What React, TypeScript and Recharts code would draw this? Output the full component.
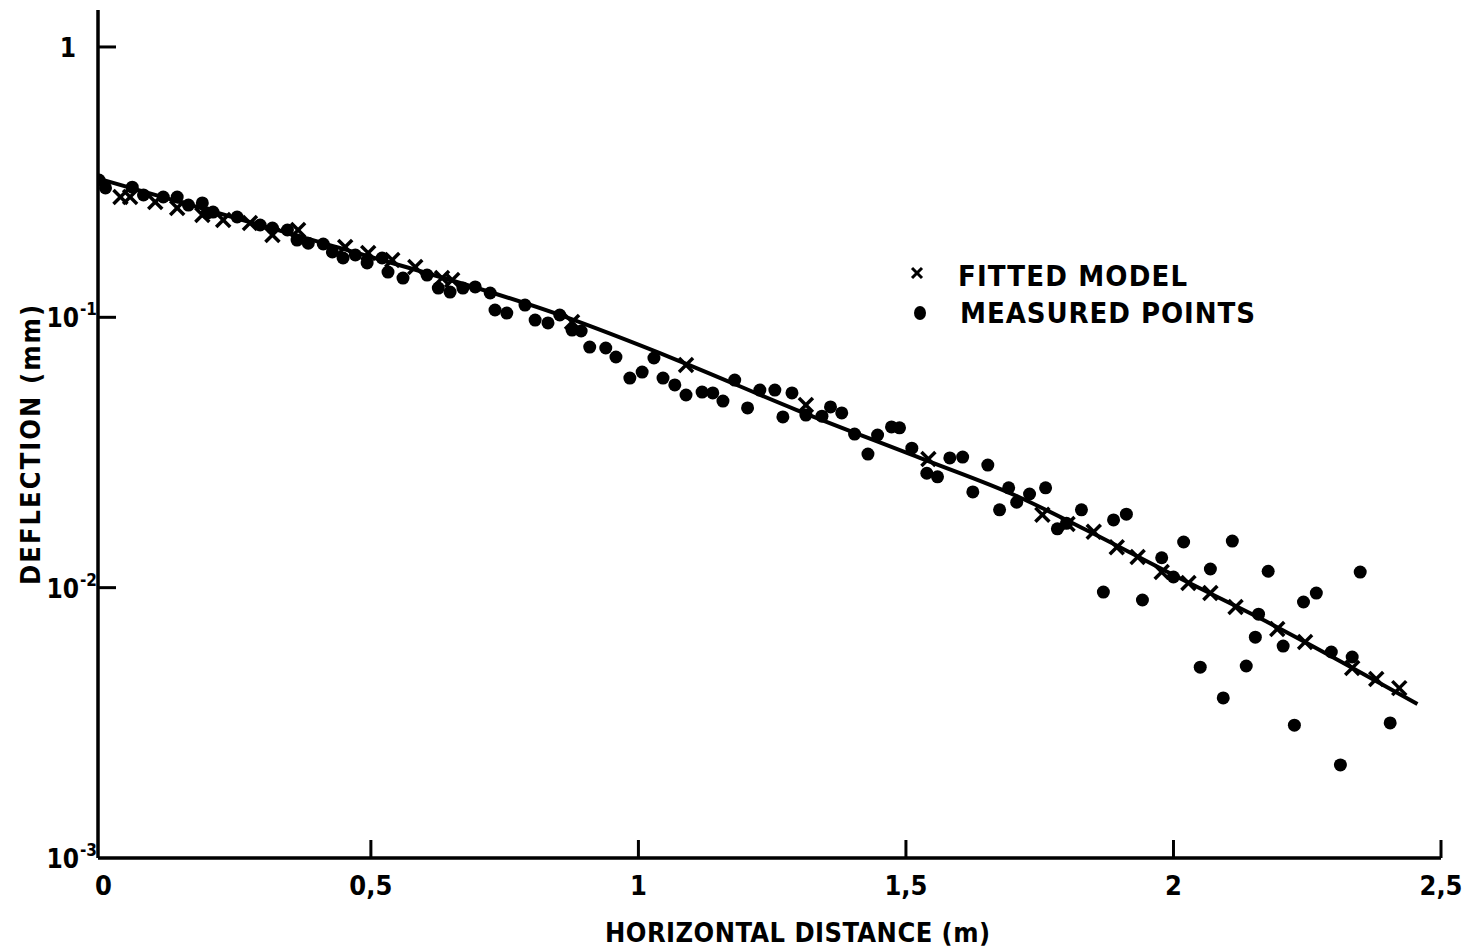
import { ScatterChart, Scatter, XAxis, YAxis, Legend } from 'recharts';

// measured deflection points (distance in m, deflection in mm)
const measuredX = [
  -0.008, 0.004, 0.054, 0.075, 0.112, 0.138, 0.159, 0.185, 0.194, 0.205, 0.25, 0.293, 0.316, 0.344, 0.362,
  0.383, 0.411, 0.428, 0.448, 0.471, 0.493, 0.521, 0.532, 0.56, 0.605, 0.626, 0.648, 0.672, 0.695, 0.723,
  0.732, 0.754, 0.788, 0.807, 0.831, 0.853, 0.876, 0.893, 0.909, 0.939, 0.958, 0.984, 1.007, 1.029, 1.046,
  1.068, 1.089, 1.119, 1.139, 1.158, 1.18, 1.204, 1.227, 1.255, 1.27, 1.287, 1.313, 1.343, 1.359, 1.38,
  1.404, 1.429, 1.447, 1.473, 1.488, 1.511, 1.539, 1.559, 1.582, 1.606, 1.625, 1.653, 1.675, 1.692, 1.707,
  1.731, 1.761, 1.783, 1.8, 1.828, 1.869, 1.888, 1.912, 1.942, 1.978, 2.0, 2.019, 2.05, 2.069, 2.093,
  2.11, 2.136, 2.153, 2.159, 2.177, 2.205, 2.226, 2.243, 2.267, 2.295, 2.312, 2.334, 2.349, 2.405,
];
const measuredY = [
  0.322, 0.301, 0.303, 0.2835, 0.2786, 0.2786, 0.26, 0.265, 0.243, 0.245, 0.235, 0.2195, 0.214, 0.2104, 0.193,
  0.188, 0.1867, 0.1745, 0.1657, 0.17, 0.1588, 0.1657, 0.147, 0.1397, 0.1433, 0.1283, 0.124, 0.1283, 0.1295, 0.123,
  0.1064, 0.1037, 0.111, 0.0977, 0.0953, 0.102, 0.0897, 0.089, 0.0776, 0.077, 0.0713, 0.0596, 0.0627, 0.0707, 0.0596,
  0.0562, 0.0516, 0.0529, 0.0525, 0.049, 0.0586, 0.0462, 0.0538, 0.0538, 0.0428, 0.0525, 0.0435, 0.0431, 0.0466, 0.0443,
  0.037, 0.0312, 0.0367, 0.0393, 0.039, 0.0328, 0.0265, 0.0257, 0.0302, 0.0304, 0.0226, 0.0284, 0.0194, 0.0234, 0.0207,
  0.0222, 0.0234, 0.0165, 0.0173, 0.0194, 0.00963, 0.0178, 0.0187, 0.009, 0.0129, 0.01095, 0.01475, 0.00508, 0.01172, 0.00391,
  0.01487, 0.00513, 0.00656, 0.00798, 0.0115, 0.00608, 0.0031, 0.00885, 0.00955, 0.00578, 0.00221, 0.00554, 0.01142, 0.00316,
];

// fitted model markers
const fittedX = [
  0.032, 0.05, 0.097, 0.138, 0.185, 0.224, 0.274, 0.316, 0.364, 0.452, 0.495, 0.54, 0.583, 0.633, 0.652,
  0.876, 1.089, 1.313, 1.542, 1.755, 1.802, 1.851, 1.894, 1.933, 1.978, 2.028, 2.069, 2.116, 2.194, 2.246,
  2.334, 2.379, 2.422,
];
const fittedY = [
  0.2786, 0.2786, 0.267, 0.2538, 0.239, 0.229, 0.2233, 0.2016, 0.2104, 0.182, 0.173, 0.163, 0.1535, 0.1397, 0.1374,
  0.0961, 0.0666, 0.0474, 0.0299, 0.0186, 0.0172, 0.0161, 0.0141, 0.01298, 0.01142, 0.0104, 0.00955, 0.00848, 0.00703, 0.0063,
  0.00504, 0.00459, 0.00425,
];

// fitted model curve
const curveX = [0, 0.411, 0.853, 1.072, 1.296, 1.526, 1.712, 1.838, 2.011, 2.161, 2.456];
const curveY = [0.322, 0.188, 0.102, 0.0695, 0.0454, 0.0302, 0.0216, 0.0163, 0.01085, 0.00772, 0.00371];

const xTicks = [0, 0.5, 1, 1.5, 2, 2.5];
const xTickLabels = ['0', '0,5', '1', '1,5', '2', '2,5'];
const yTicks = [0.001, 0.01, 0.1, 1];
const yTickBase = ['10', '10', '10', '1'];
const yTickExp = ['-3', '-2', '-1', ''];

const measured = measuredX.map((x, i) => ({ x, y: measuredY[i] }));
const fitted = fittedX.map((x, i) => ({ x, y: fittedY[i] }));
const curve = curveX.map((x, i) => ({ x, y: curveY[i] }));

const FONT = "'DejaVu Sans Condensed', 'Liberation Sans Narrow', 'DejaVu Sans', sans-serif";

function XTick({ x, y, payload }: any) {
  const i = xTicks.indexOf(payload.value);
  return (
    <g>
      {i > 0 && <line x1={x} x2={x} y1={y} y2={y - 18} stroke="#000" strokeWidth={3} />}
      <text x={x} y={y + 37} textAnchor="middle" fontFamily={FONT} fontWeight="bold" fontSize={27} fill="#000">
        {xTickLabels[i]}
      </text>
    </g>
  );
}

function YTick({ x, y, payload }: any) {
  const i = yTicks.indexOf(payload.value);
  const exp = yTickExp[i];
  return (
    <g>
      {i > 0 && <line x1={x} x2={x + 18} y1={y} y2={y} stroke="#000" strokeWidth={3} />}
      <text x={exp ? x - 19 : x - 22} y={y + 10} textAnchor="end" fontFamily={FONT} fontWeight="bold" fontSize={26} fill="#000">
        {yTickBase[i]}
      </text>
      {exp && (
        <text x={x - 18} y={y - 2} textAnchor="start" fontFamily={FONT} fontWeight="bold" fontSize={17} fill="#000">
          {exp}
        </text>
      )}
    </g>
  );
}

const Cross = ({ cx, cy }: any) => (
  <g stroke="#000" strokeWidth={3.5}>
    <line x1={cx - 7} y1={cy - 7} x2={cx + 7} y2={cy + 7} />
    <line x1={cx + 7} y1={cy - 7} x2={cx - 7} y2={cy + 7} />
  </g>
);

const Dot = ({ cx, cy }: any) => <circle cx={cx} cy={cy} r={6.5} fill="#000" />;

const Nothing = () => <g />;

function LegendBox() {
  return (
    <svg width={380} height={80}>
      <g stroke="#000" strokeWidth={3}>
        <line x1={7} y1={18} x2={17} y2={28} />
        <line x1={17} y1={18} x2={7} y2={28} />
      </g>
      <text x={53} y={36} fontFamily={FONT} fontWeight="bold" fontSize={29} textLength={229} lengthAdjust="spacing" fill="#000">
        FITTED MODEL
      </text>
      <ellipse cx={15} cy={63} rx={6} ry={7} fill="#000" />
      <text x={55} y={73} fontFamily={FONT} fontWeight="bold" fontSize={29} textLength={295} lengthAdjust="spacing" fill="#000">
        MEASURED POINTS
      </text>
    </svg>
  );
}

export default function App() {
  return (
    <div style={{ position: 'absolute', left: 0, top: 0, width: 1472, height: 948, background: '#fff' }}>
      <ScatterChart width={1472} height={948} margin={{ top: 10, right: 31, bottom: 40, left: 38 }}>
        <XAxis
          type="number"
          dataKey="x"
          domain={[-0.01, 2.5]}
          ticks={xTicks}
          height={50}
          tickSize={0}
          tickMargin={0}
          tickLine={false}
          axisLine={{ stroke: '#000', strokeWidth: 3.5 }}
          tick={<XTick />}
          allowDataOverflow
          label={{
            content: () => (
              <text x={605} y={942} fontFamily={FONT} fontWeight="bold" fontSize={27} textLength={385} lengthAdjust="spacing" fill="#000">
                HORIZONTAL DISTANCE (m)
              </text>
            ),
          }}
        />
        <YAxis
          type="number"
          dataKey="y"
          scale="log"
          domain={[0.001, 1.37]}
          ticks={yTicks}
          width={60}
          tickSize={0}
          tickMargin={0}
          tickLine={false}
          axisLine={{ stroke: '#000', strokeWidth: 3.5 }}
          tick={<YTick />}
          allowDataOverflow
          label={{
            content: () => (
              <text
                x={0}
                y={0}
                transform="translate(40,585) rotate(-90)"
                fontFamily={FONT}
                fontWeight="bold"
                fontSize={27}
                textLength={280}
                lengthAdjust="spacing"
                fill="#000"
              >
                DEFLECTION (mm)
              </text>
            ),
          }}
        />
        <Legend
          layout="horizontal"
          verticalAlign="middle"
          align="center"
          wrapperStyle={{ left: 905, top: 250, width: 380 }}
          content={() => <LegendBox />}
        />
        <Scatter
          name="curve"
          data={curve}
          line={{ stroke: '#000', strokeWidth: 4 }}
          lineJointType="monotoneX"
          shape={<Nothing />}
          legendType="none"
          isAnimationActive={false}
        />
        <Scatter name="MEASURED POINTS" data={measured} shape={<Dot />} isAnimationActive={false} />
        <Scatter name="FITTED MODEL" data={fitted} shape={<Cross />} isAnimationActive={false} />
      </ScatterChart>
    </div>
  );
}
